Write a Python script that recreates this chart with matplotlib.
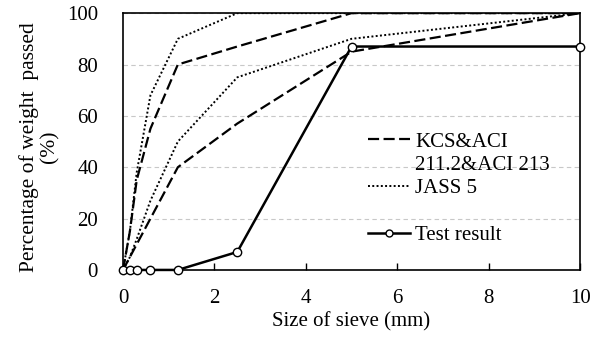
import matplotlib
matplotlib.use("Agg")
import matplotlib.pyplot as plt
from matplotlib.lines import Line2D

plt.rcParams['font.family'] = ['Liberation Serif', 'DejaVu Serif']

sieve = [0, 0.15, 0.3, 0.6, 1.2, 2.5, 5, 10]
kcs_upper = [0, 15, 35, 55, 80, 87, 100, 100]
kcs_lower = [0, 5, 10, 20, 40, 57, 85, 100]
jass_upper = [0, 15, 38, 68, 90, 100, 100, 100]
jass_lower = [0, 5, 12, 27, 50, 75, 90, 100]
test_result = [0, 0, 0, 0, 0, 7, 87, 87]

x_ticks = [0, 2, 4, 6, 8, 10]
y_ticks = [0, 20, 40, 60, 80, 100]

FS = 15

fig = plt.figure(figsize=(6.03, 3.37), dpi=100)
ax = fig.add_axes([0.204, 0.199, 0.758, 0.762])

dash = (0, (5, 2))
dot = (0, (1, 1.2))
ax.plot(sieve, kcs_upper, color='black', lw=1.6, linestyle=dash)
ax.plot(sieve, kcs_lower, color='black', lw=1.6, linestyle=dash)
ax.plot(sieve, jass_upper, color='black', lw=1.4, linestyle=dot)
ax.plot(sieve, jass_lower, color='black', lw=1.4, linestyle=dot)
ax.plot(sieve, test_result, color='black', lw=1.8, marker='o', markersize=6,
        markerfacecolor='white', markeredgecolor='black', markeredgewidth=1, clip_on=False, zorder=5)

ax.set_xlim(0, 10)
ax.set_ylim(0, 100)
ax.set_xticks(x_ticks)
ax.set_yticks(y_ticks)
ax.tick_params(axis='x', direction='in', length=5, width=1, pad=14, labelsize=FS)
ax.tick_params(axis='y', length=0, pad=18, labelsize=FS)
ax.grid(axis='y', color='#c8c8c8', linestyle=(0, (4, 3)), lw=0.8)
ax.set_axisbelow(True)
for s in ax.spines.values():
    s.set_linewidth(1.2)

ax.set_xlabel('Size of sieve (mm)', fontsize=FS, labelpad=3)
ax.set_ylabel('Percentage of weight  passed\n(%)', fontsize=15.5, linespacing=1.1)
ax.yaxis.set_label_coords(-0.138, 0.479)

handles = [
    Line2D([], [], color='black', lw=1.6, linestyle=dash),
    Line2D([], [], color='none'),
    Line2D([], [], color='black', lw=1.4, linestyle=dot),
    Line2D([], [], color='none'),
    Line2D([], [], color='black', lw=1.8, marker='o', markersize=5,
           markerfacecolor='white', markeredgecolor='black'),
]
labels = ['KCS&ACI', '211.2&ACI 213', 'JASS 5', '', 'Test result']
leg = ax.legend(handles, labels, loc='upper left', bbox_to_anchor=(0.536, 0.537),
                frameon=False, fontsize=FS, handlelength=2.0, handletextpad=0.25,
                labelspacing=0.18, borderpad=0, borderaxespad=0)

fig.savefig('out.png', dpi=100)
